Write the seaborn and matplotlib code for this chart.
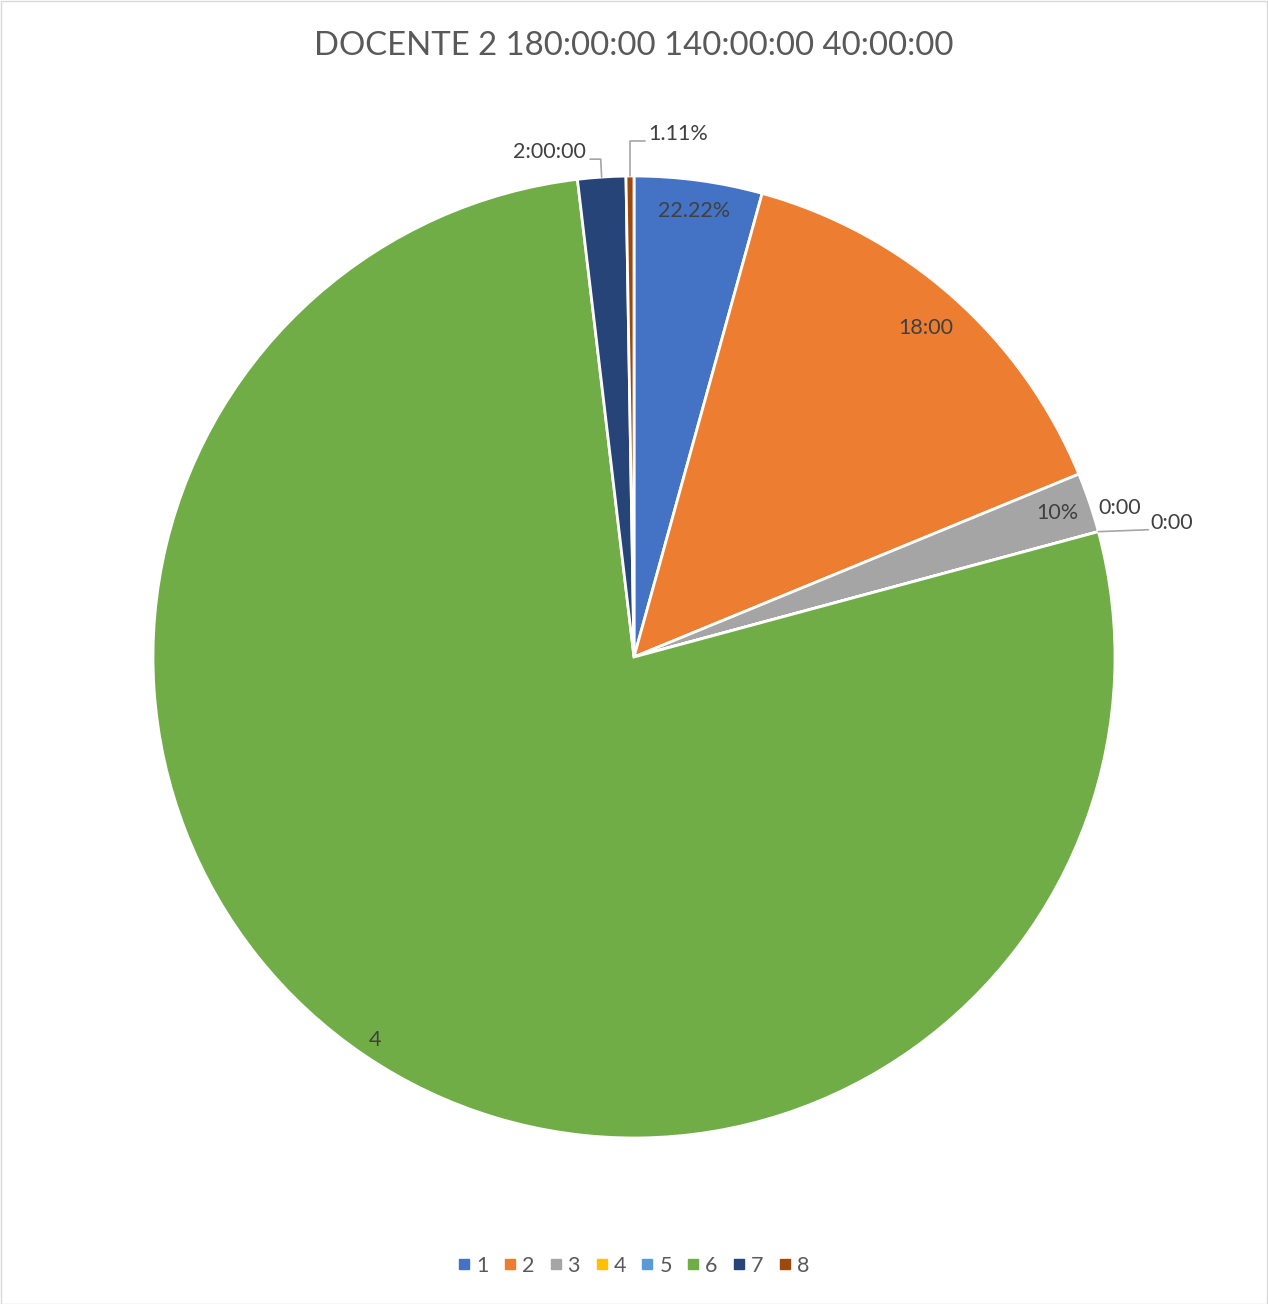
import numpy as np
import matplotlib
matplotlib.use("Agg")
import matplotlib.pyplot as plt
from matplotlib.patches import Rectangle
from matplotlib.lines import Line2D
import seaborn as sns

# Hours logged per activity
categories = ["1", "2", "3", "4", "5", "6", "7", "8"]
hours = [5.33, 18.0, 2.5, 0.0, 0.0, 96.0, 2.0, 0.33]
label_texts = ["22.22%", "18:00", "10%", "0:00", "0:00", "4", "2:00:00", "1.11%"]
title_text = "DOCENTE 2 180:00:00 140:00:00 40:00:00"

colors = ["#4472C4", "#ED7D31", "#A5A5A5", "#FFC000",
          "#5B9BD5", "#70AD47", "#264478", "#9E480E"]

sns.set_theme(style="white")
plt.rcParams["font.family"] = ["Lato", "DejaVu Sans"]

W, H = 1268, 1304
fig = plt.figure(figsize=(W / 100, H / 100), dpi=100)
fig.patch.set_facecolor("white")

# pie axes: centre (634, 657) px, radius 481 px
cx, cy, R = 634, 657, 481
ax = fig.add_axes([(cx - R) / W, (H - cy - R) / H, 2 * R / W, 2 * R / H])
wedges, _ = ax.pie(hours, colors=sns.color_palette(colors), startangle=90,
                   counterclock=False, radius=1.0,
                   wedgeprops=dict(edgecolor="white", linewidth=2.0))
ax.set_xlim(-1, 1)
ax.set_ylim(-1, 1)
ax.set_aspect("equal")
ax.axis("off")

txt_color = "#404040"
lead_color = "#A6A6A6"
fs = 15.5


def mid_angle(w):
    return np.deg2rad((w.theta1 + w.theta2) / 2)


def polar(a, r):
    return r * np.cos(a), r * np.sin(a)


# labels inside the larger slices
inside = {0: 0.935, 1: 0.915, 2: 0.93, 5: 0.962}
for i, r in inside.items():
    x, y = polar(mid_angle(wedges[i]), r)
    ax.text(x, y, label_texts[i], ha="center", va="center",
            fontsize=fs, color=txt_color)

# slice 7 label with leader
a7 = mid_angle(wedges[6])
ex, ey = polar(a7, 1.0)
ax.add_line(Line2D([ex, ex - 0.002, -0.0915], [ey, 1.035, 1.035],
                   color=lead_color, lw=1.2, clip_on=False))
ax.text(-0.1, 1.05, label_texts[6], ha="right", va="center",
        fontsize=fs, color=txt_color, clip_on=False)

# slice 8 label with leader
a8 = mid_angle(wedges[7])
ex, ey = polar(a8, 1.0)
ax.add_line(Line2D([ex, ex, 0.023], [ey, 1.073, 1.073],
                   color=lead_color, lw=1.2, clip_on=False))
ax.text(0.029, 1.087, label_texts[7], ha="left", va="center",
        fontsize=fs, color=txt_color, clip_on=False)

# zero slices 4 and 5
a4 = np.deg2rad(wedges[3].theta1)
ex, ey = polar(a4, 1.0)
ax.text(ex + 0.045, ey + 0.05, label_texts[3], ha="center", va="center",
        fontsize=fs, color=txt_color, clip_on=False)
ax.add_line(Line2D([ex, ex + 0.104], [ey, ey + 0.004],
                   color=lead_color, lw=1.2, clip_on=False))
ax.text(ex + 0.108, ey + 0.019, label_texts[4], ha="left", va="center",
        fontsize=fs, color=txt_color, clip_on=False)

# title
fig.text(cx / W, 1 - 46 / H, title_text, ha="center", va="center",
         fontsize=23.7, color="#595959")

# legend
handles = [Line2D([0], [0], marker="s", linestyle="none", markersize=6.5,
                  markerfacecolor=c, markeredgecolor=c) for c in colors]
fig.legend(handles, categories, loc="center", bbox_to_anchor=(0.5, 1 - 1266 / H),
           ncol=len(categories), frameon=False, fontsize=15.5,
           labelcolor="#595959", handlelength=0.5, handletextpad=0.3,
           columnspacing=0.75)

# chart border
fig.add_artist(Rectangle((0.5 / W, 0.5 / H), 1 - 1.5 / W, 1 - 1.5 / H,
                         transform=fig.transFigure, fill=False,
                         edgecolor="#D9D9D9", lw=1.0))

fig.savefig("out.png", dpi=100, facecolor="white")
